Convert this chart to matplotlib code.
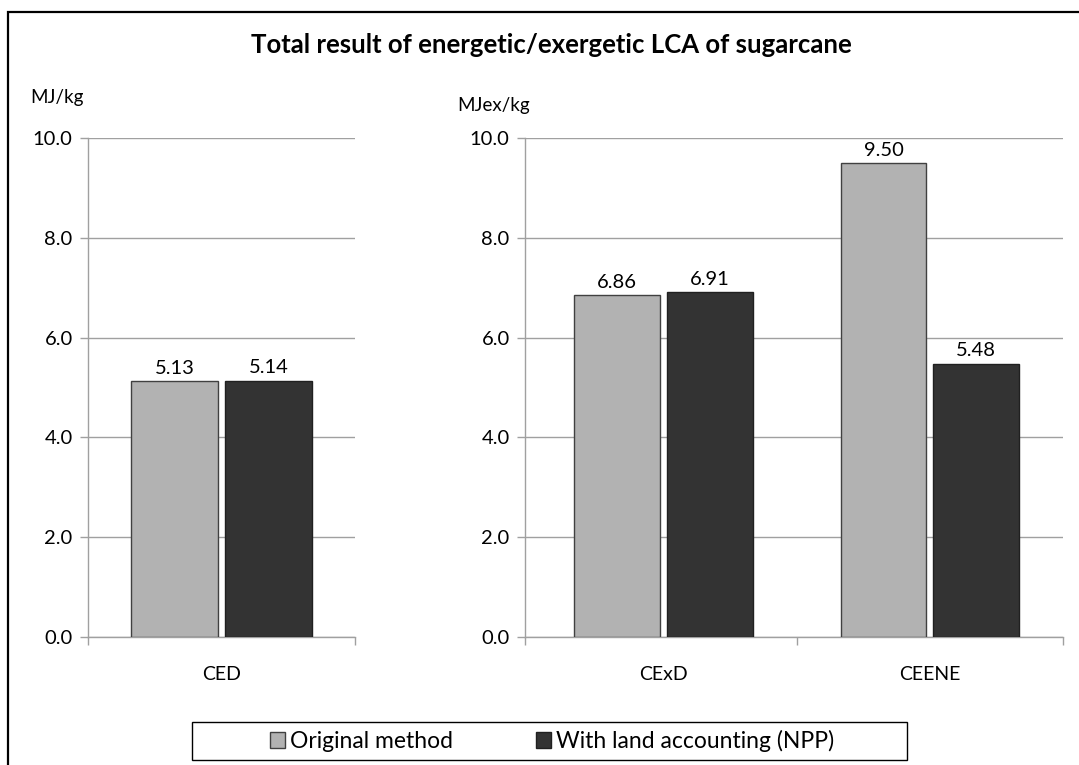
import matplotlib
matplotlib.use("Agg")
import matplotlib.pyplot as plt
from matplotlib.patches import Rectangle, Patch

plt.rcParams['font.family'] = ['Lato', 'DejaVu Sans']

# data
left_cats = ['CED']
left_orig = [5.13]
left_npp = [5.14]

right_cats = ['CExD', 'CEENE']
right_orig = [6.86, 9.50]
right_npp = [6.91, 5.48]

series_names = ['Original method', 'With land accounting (NPP)']
yticks = [0, 2, 4, 6, 8, 10]

LIGHT = '#b2b2b2'
DARK = '#333333'
AXGRAY = '#a0a0a0'
W, H = 1079, 765


def px_axes(fig, x0, x1, ytop, ybot):
    return fig.add_axes([x0 / W, (H - ybot) / H, (x1 - x0) / W, (ybot - ytop) / H])


def draw_panel(ax, cats, orig, npp, bw, lo=-0.5):
    n = len(cats)
    gap = 0.026
    off = bw / 2 + gap / 2
    xs = list(range(n))
    b1 = ax.bar([x - off for x in xs], orig, width=bw, color=LIGHT,
                edgecolor='#404040', linewidth=1, zorder=3)
    b2 = ax.bar([x + off for x in xs], npp, width=bw, color=DARK,
                edgecolor='#202020', linewidth=1, zorder=3)
    for bars in (b1, b2):
        for r in bars:
            ax.annotate('%.2f' % r.get_height(),
                        (r.get_x() + r.get_width() / 2, r.get_height()),
                        xytext=(0, 3), textcoords='offset points',
                        ha='center', va='bottom', fontsize=14.5)
    ax.set_xlim(lo, n - 0.5)
    ax.set_ylim(0, 10)
    ax.set_yticks(yticks)
    ax.set_yticklabels(['%.1f' % v for v in yticks])
    ax.yaxis.grid(True, color=AXGRAY, linewidth=1, zorder=0)
    ax.set_axisbelow(True)
    # category boundaries as tick marks, names as minor labels
    ax.set_xticks([lo] + [i + 0.5 for i in range(n)])
    ax.set_xticklabels([])
    ax.set_xticks(xs, minor=True)
    ax.set_xticklabels(cats, minor=True)
    ax.tick_params(axis='x', which='minor', length=0, pad=21, labelsize=14)
    ax.tick_params(axis='x', which='major', length=6, color=AXGRAY, width=1)
    ax.tick_params(axis='y', length=6, color=AXGRAY, width=1, labelsize=14.5, pad=5)
    for s in ('top', 'right'):
        ax.spines[s].set_visible(False)
    for s in ('left', 'bottom'):
        ax.spines[s].set_color(AXGRAY)
        ax.spines[s].set_linewidth(1)


fig = plt.figure(figsize=(W / 100, H / 100), dpi=100)

ax1 = px_axes(fig, 88, 355, 138, 637)
draw_panel(ax1, left_cats, left_orig, left_npp, 0.325)

ax2 = px_axes(fig, 525, 1063, 138, 637)
draw_panel(ax2, right_cats, right_orig, right_npp, 0.322, lo=-0.52)

fig.text(551 / W, 1 - 45 / H, 'Total result of energetic/exergetic LCA of sugarcane',
         ha='center', va='center', fontsize=18.5, fontweight='bold')
fig.text(30 / W, 1 - 98 / H, 'MJ/kg', ha='left', va='center', fontsize=13.5)
fig.text(457 / W, 1 - 106 / H, 'MJex/kg', ha='left', va='center', fontsize=13.5)

# legend box drawn separately, entries placed without a frame
fig.patches.append(Rectangle((192 / W, 1 - 760 / H), 715 / W, 38 / H,
                             transform=fig.transFigure, fill=False,
                             edgecolor='black', linewidth=1))
handles = [Patch(facecolor=LIGHT, edgecolor='#404040'),
           Patch(facecolor=DARK, edgecolor='#202020')]
fig.legend(handles, series_names, ncol=2, loc='center',
           bbox_to_anchor=(552 / W, 1 - 741 / H), fontsize=16.5,
           frameon=False, handlelength=0.68, handleheight=0.68,
           handletextpad=0.22, columnspacing=3.6, borderpad=0, borderaxespad=0)

# outer chart frame (cropped on right and bottom)
fig.patches.append(Rectangle((8 / W, -0.1), 1.2, (1 - 12 / H) + 0.1,
                             transform=fig.transFigure, fill=False,
                             edgecolor='black', linewidth=1.6, zorder=0))

fig.savefig('out.png', dpi=100)
